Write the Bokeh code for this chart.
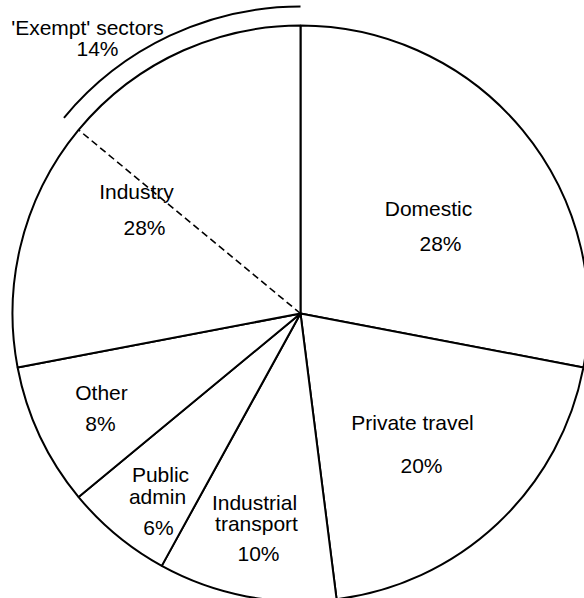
import math
from bokeh.plotting import figure
from bokeh.models import Range1d, ColumnDataSource
from bokeh.core.properties import value
from bokeh.embed import file_html
from bokeh.resources import INLINE

# ---------------- data ----------------
categories = ["Domestic", "Private travel", "Industrial transport", "Public admin", "Other", "Industry"]
shares = [28, 20, 10, 6, 8, 28]          # percent, clockwise from 12 o'clock
exempt_label = "'Exempt' sectors"
exempt_share = 14                         # part of Industry, ending at 12 o'clock

label_lines = {
    "Domestic": ["Domestic", "28%"],
    "Private travel": ["Private travel", "20%"],
    "Industrial transport": ["Industrial", "transport", "10%"],
    "Public admin": ["Public", "admin", "6%"],
    "Other": ["Other", "8%"],
    "Industry": ["Industry", "28%"],
}
exempt_lines = [exempt_label, f"{exempt_share}%"]

# ---------------- layout (screen pixels of the page) ----------------
CX, CY, R = 300, 313, 288
R_OUTER = 307
label_pos = {   # list of (x centre, baseline) per line
    "Domestic": [(428, 208), (440, 243)],
    "Private travel": [(412, 422), (421, 465)],
    "Industrial transport": [(254, 502), (256, 523), (258, 553)],
    "Public admin": [(160, 474), (157, 496), (158, 527)],
    "Other": [(101, 392), (100, 423)],
    "Industry": [(136, 191), (144, 227)],
}
exempt_pos = [(87, 27), (97, 48)]

W, H = 584, 598
p = figure(width=W, height=H, output_backend="svg", toolbar_location=None,
           x_range=Range1d(0, W), y_range=Range1d(-H, 0),
           min_border=0, outline_line_color=None)
p.axis.visible = False
p.grid.visible = False
p.background_fill_color = "white"
p.border_fill_color = "white"

total = float(sum(shares))
cum = 0.0
starts, ends = [], []
for s in shares:
    a0 = math.pi / 2 - 2 * math.pi * cum / total
    cum += s
    a1 = math.pi / 2 - 2 * math.pi * cum / total
    starts.append(a1)
    ends.append(a0)

src = ColumnDataSource(dict(cat=categories, share=shares, start=starts, end=ends,
                            x=[CX] * len(shares), y=[-CY] * len(shares)))
p.wedge(x="x", y="y", radius=R, start_angle="start", end_angle="end",
        direction="anticlock", source=src, fill_color="white",
        line_color="black", line_width=2)

# dashed divider for the exempt part of Industry
a_ex = math.pi / 2 + 2 * math.pi * exempt_share / total
p.segment(x0=[CX], y0=[-CY], x1=[CX + R * math.cos(a_ex)], y1=[-CY + R * math.sin(a_ex)],
          line_color="black", line_width=1.6, line_dash="7 4")

# outer arc marking the exempt sectors
p.arc(x=[CX], y=[-CY], radius=R_OUTER, start_angle=math.pi / 2, end_angle=a_ex,
      direction="anticlock", line_color="black", line_width=2)

# labels
tx, ty, tt = [], [], []
for c in categories:
    for line, (xc, b) in zip(label_lines[c], label_pos[c]):
        tx.append(xc); ty.append(-b); tt.append(line)
for line, (xc, b) in zip(exempt_lines, exempt_pos):
    tx.append(xc); ty.append(-b); tt.append(line)

p.text(x=tx, y=ty, text=tt, text_font=value("Liberation Sans"), text_font_size="21px",
       text_align="center", text_baseline="alphabetic", text_color="black")

open("out.html", "w").write(file_html(p, INLINE))
